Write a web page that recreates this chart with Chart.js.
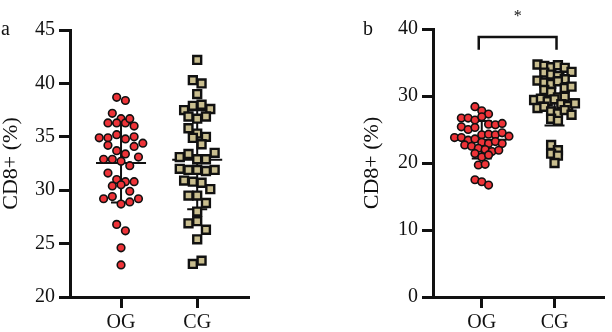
<!DOCTYPE html>
<html>
<head>
<meta charset="utf-8">
<script src="https://cdn.jsdelivr.net/npm/chart.js@4.4.1/dist/chart.umd.min.js"></script>
<style>
  body { margin: 0; background: #fff; }
  #wrap { position: relative; width: 612px; height: 332px; }
  canvas { position: absolute; top: 0; }
</style>
</head>
<body>
<div id="wrap">
  <canvas id="chartA" width="300" height="332" style="left:0"></canvas>
  <canvas id="chartB" width="312" height="332" style="left:300px"></canvas>
</div>
<script>
const groups = ["OG", "CG"];

// panel a
const aOG = [38.7, 38.4, 37.2, 36.7, 36.3, 36.3, 36.3, 36.0, 36.7, 34.9,
             34.9, 35.2, 34.8, 35.0, 34.4, 34.2, 33.7, 33.4, 34.1, 32.9,
             32.9, 32.7, 32.3, 33.1, 31.6, 31.0, 30.8, 30.4, 30.8, 30.5,
             29.9, 29.2, 29.4, 28.7, 28.9, 29.2, 26.8, 26.2, 24.6, 23.0];
const aCG = [42.2, 40.3, 40.0, 39.0, 37.5, 37.9, 38.0, 37.6, 36.9, 36.7,
             36.9, 35.8, 35.3, 35.0, 34.9, 34.3, 33.1, 33.4, 32.9, 32.9,
             33.5, 32.0, 31.9, 31.9, 31.8, 31.9, 30.9, 30.8, 30.7, 30.1,
             29.5, 29.5, 28.8, 28.0, 26.9, 27.1, 26.3, 25.4, 23.1, 23.4];
const aTicks = [20, 25, 30, 35, 40, 45];

// panel b
const bOG = [28.4, 27.8, 27.3, 26.7, 26.7, 26.4, 26.9, 25.4, 25.8, 25.7,
             25.9, 25.0, 25.3, 24.2, 24.3, 24.2, 24.5, 23.8, 23.8, 23.4,
             23.6, 23.1, 22.7, 22.9, 23.2, 22.9, 22.5, 22.2, 22.0, 21.7,
             21.4, 21.9, 20.9, 21.2, 19.7, 19.8, 17.5, 17.2, 16.7, 24.0];
const bCG = [34.7, 34.5, 34.3, 34.6, 34.2, 33.5, 33.2, 33.6, 33.0, 32.3,
             32.0, 32.5, 31.8, 32.2, 31.2, 30.9, 31.4, 30.6, 29.8, 29.4,
             29.6, 29.2, 29.9, 29.5, 28.8, 28.5, 28.2, 28.9, 28.4, 27.7,
             27.4, 27.9, 27.2, 26.6, 26.3, 22.7, 21.9, 21.4, 21.1, 20.0];
const bTicks = [0, 10, 20, 30, 40];

const INK = "#111";
const RED = "#ee3338";
const TAN = "#c9be8f";
const SERIF = "'Liberation Serif', 'DejaVu Serif', serif";

// GraphPad-style scatter: values close together share a row, spread sideways
function rows(values, bin, step) {
  const order = values.map((v, i) => i).sort((i, j) => values[j] - values[i]);
  const offsets = new Array(values.length).fill(0);
  let row = [];
  const flush = () => {
    row.sort((i, j) => i - j);
    row.forEach((i, k) => { offsets[i] = (k - (row.length - 1) / 2) * step; });
    row = [];
  };
  order.forEach(i => {
    if (row.length && values[row[0]] - values[i] >= bin) flush();
    row.push(i);
  });
  flush();
  return offsets;
}

function stats(v) {
  const m = v.reduce((s, x) => s + x, 0) / v.length;
  const sd = Math.sqrt(v.reduce((s, x) => s + (x - m) ** 2, 0) / (v.length - 1));
  return { m, sd };
}

// mean and SD bars, drawn behind the points
const errorBars = {
  id: "errorBars",
  beforeDatasetsDraw(chart, args, opts) {
    const { ctx, scales: { x, y } } = chart;
    ctx.save();
    ctx.strokeStyle = INK;
    ctx.lineWidth = 2;
    opts.sets.forEach((vals, g) => {
      const { m, sd } = stats(vals);
      const cx = x.getPixelForValue(g);
      const yT = y.getPixelForValue(m + sd), yB = y.getPixelForValue(m - sd), yM = y.getPixelForValue(m);
      ctx.beginPath();
      ctx.moveTo(cx, yT); ctx.lineTo(cx, yB);
      ctx.moveTo(cx - 10, yT); ctx.lineTo(cx + 10, yT);
      ctx.moveTo(cx - 10, yB); ctx.lineTo(cx + 10, yB);
      ctx.moveTo(cx - 25, yM); ctx.lineTo(cx + 25, yM);
      ctx.stroke();
    });
    ctx.restore();
  }
};

const extras = {
  id: "extras",
  afterDraw(chart, args, opts) {
    const { ctx, scales: { x, y } } = chart;
    ctx.save();
    ctx.fillStyle = INK;
    ctx.font = "20px " + SERIF;
    ctx.textBaseline = "alphabetic";
    ctx.fillText(opts.letter, opts.letterX, 35);
    if (opts.bracket) {
      const x0 = x.getPixelForValue(0) - 3, x1 = x.getPixelForValue(1) + 2;
      const yT = y.getPixelForValue(opts.bracket[0]), yB = y.getPixelForValue(opts.bracket[1]);
      ctx.strokeStyle = INK;
      ctx.lineWidth = 2.5;
      ctx.beginPath();
      ctx.moveTo(x0, yB); ctx.lineTo(x0, yT); ctx.lineTo(x1, yT); ctx.lineTo(x1, yB);
      ctx.stroke();
      ctx.font = "16px " + SERIF;
      ctx.textAlign = "center";
      ctx.fillText("*", (x0 + x1) / 2, 21);
    }
    ctx.restore();
  }
};

function panel(id, og, cg, yTicks, bin, step, yWidth, pad, extraOpts) {
  const ogX = rows(og, bin, step);
  const cgX = rows(cg, bin, step);
  return new Chart(document.getElementById(id), {
    type: "scatter",
    data: {
      datasets: [
        {
          label: groups[0],
          data: og.map((v, i) => ({ x: ogX[i], y: v })),
          pointStyle: "circle",
          pointRadius: 3.8,
          backgroundColor: RED,
          borderColor: INK,
          borderWidth: 1.6
        },
        {
          label: groups[1],
          data: cg.map((v, i) => ({ x: 1 + cgX[i], y: v })),
          pointStyle: "rect",
          pointRadius: 5.6,
          backgroundColor: TAN,
          borderColor: INK,
          borderWidth: 2.4
        }
      ]
    },
    options: {
      responsive: false,
      animation: false,
      devicePixelRatio: 1,
      layout: { padding: pad },
      plugins: {
        legend: { display: false },
        tooltip: { enabled: false },
        errorBars: { sets: [og, cg] },
        extras: extraOpts
      },
      scales: {
        x: {
          type: "linear",
          min: -0.67,
          max: 1.68,
          afterBuildTicks: s => { s.ticks = [{ value: 0 }, { value: 1 }]; },
          afterFit: s => { s.height = 35; },
          ticks: {
            callback: v => groups[v],
            color: INK,
            padding: 3,
            font: { family: SERIF, size: 20 }
          },
          grid: { drawOnChartArea: false, tickLength: 11, tickWidth: 3, tickColor: INK },
          border: { display: true, width: 3, color: INK }
        },
        y: {
          min: yTicks[0],
          max: yTicks[yTicks.length - 1],
          afterBuildTicks: s => { s.ticks = yTicks.map(v => ({ value: v })); },
          afterFit: s => { s.width = yWidth; },
          ticks: {
            color: INK,
            padding: 4,
            font: { family: SERIF, size: 20 }
          },
          title: {
            display: true,
            text: "CD8+ (%)",
            color: INK,
            padding: 0,
            font: { family: SERIF, size: 22, lineHeight: 1 }
          },
          grid: { drawOnChartArea: false, tickLength: 11, tickWidth: 3, tickColor: INK },
          border: { display: true, width: 3, color: INK }
        }
      }
    },
    plugins: [errorBars, extras]
  });
}

// bins and column steps: about one marker height / width
panel("chartA", aOG, aCG, aTicks, 0.82, 8.7 / 76, 70,
      { left: 0, top: 30, right: 51, bottom: 0 },
      { letter: "a", letterX: 1 });
panel("chartB", bOG, bCG, bTicks, 1.2, 7.2 / 77, 71.5,
      { left: 61.5, top: 29, right: 0, bottom: 0 },
      { letter: "b", letterX: 63, bracket: [38.8, 36.9] });
</script>
</body>
</html>
